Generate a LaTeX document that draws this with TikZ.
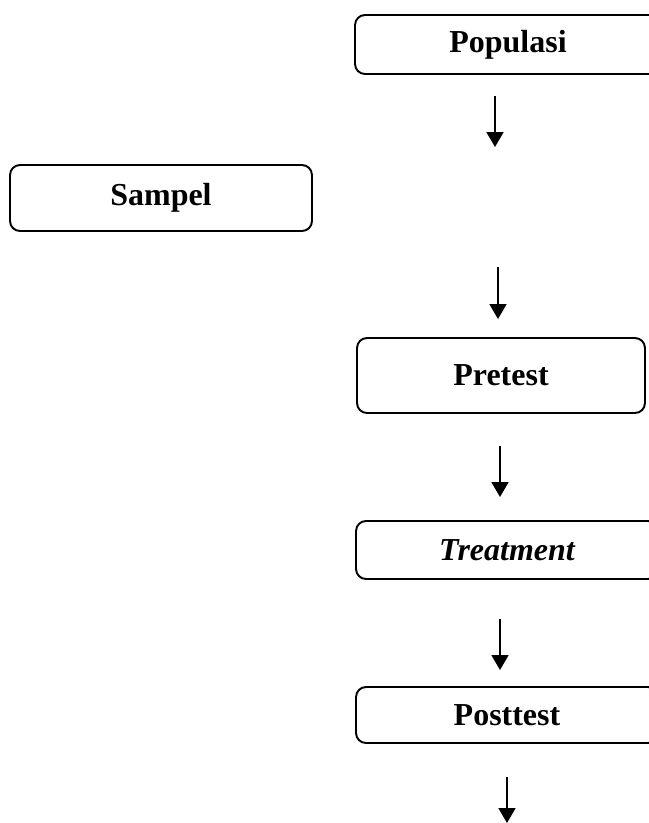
\documentclass[tikz,border=0pt]{standalone}
\usepackage{fontspec}
\setmainfont{Liberation Serif}
\usepackage{tikz}
\usetikzlibrary{arrows.meta}
\tikzstyle{box} = [draw, line width=1.1pt, rounded corners=0.2cm, inner sep=0pt, font=\fontsize{18.2}{22}\selectfont\bfseries]
\tikzstyle{arrow} = [line width=1pt, -{Triangle[width=0.34cm, length=0.3cm]}]

\begin{document}
\begin{tikzpicture}[x=0.02cm, y=-0.02cm]
		\clip (0, 0) rectangle (649, 823);
		\node[box, minimum width=6.12cm, minimum height=1.18cm] (populasi) at (508, 44.5) {Populasi};
		\node[box, minimum width=6.04cm, minimum height=1.32cm] (sampel) at (161, 198) {Sampel};
		\node[box, minimum width=5.76cm, minimum height=1.5cm] (pretest) at (501, 375.5) {Pretest};
		\node[box, minimum width=6.04cm, minimum height=1.16cm] (treatment) at (507, 550) {\itshape Treatment};
		\node[box, minimum width=6.04cm, minimum height=1.12cm] (posttest) at (507, 715) {Posttest};
		\coordinate (t1) at (495, 147);
		\coordinate (s2) at (498, 267);
		\coordinate (t3) at (500, 497);
		\coordinate (t4) at (500, 670);
		\coordinate (t5) at (507, 823);
		\draw[arrow, shorten <=0.42cm] (populasi.south -| t1) -- (t1);
		\draw[arrow, shorten >=0.36cm] (s2) -- (s2 |- pretest.north);
		\draw[arrow, shorten <=0.64cm] (pretest.south -| t3) -- (t3);
		\draw[arrow, shorten <=0.78cm] (treatment.south -| t4) -- (t4);
		\draw[arrow, shorten <=0.66cm] (posttest.south -| t5) -- (t5);
\end{tikzpicture}
\end{document}
